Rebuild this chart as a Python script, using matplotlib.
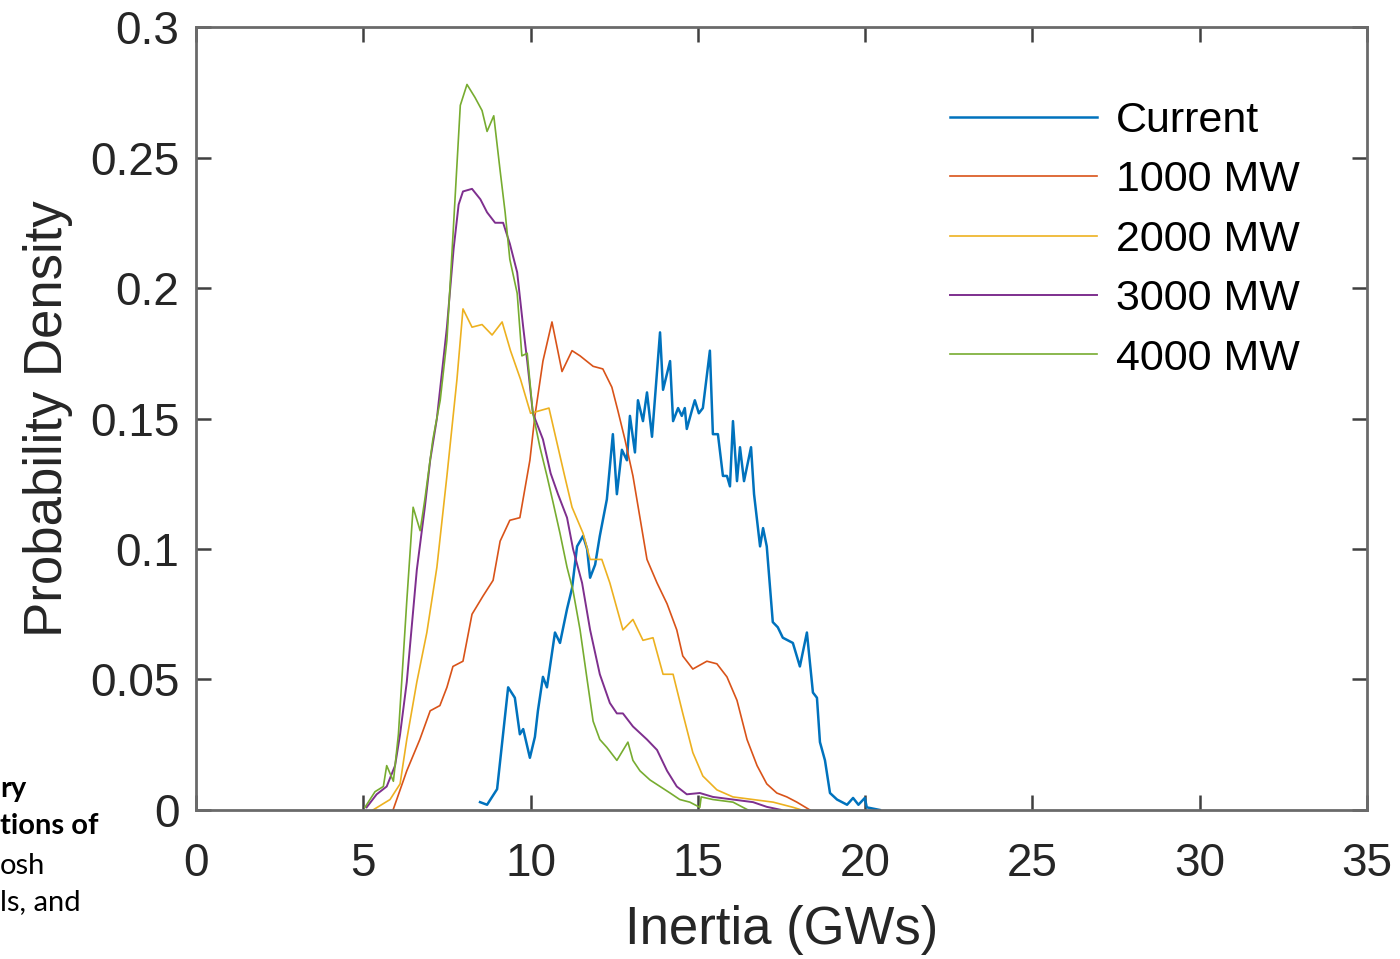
import numpy as np
import matplotlib
matplotlib.use("Agg")
import matplotlib.pyplot as plt

# Inertia (GWs) vs probability density
current = [(8.49, 0.003), (8.7, 0.002), (9.0, 0.008), (9.33, 0.047), (9.53, 0.043),
           (9.68, 0.029), (9.78, 0.031), (9.98, 0.020), (10.13, 0.028), (10.22, 0.038),
           (10.37, 0.051), (10.49, 0.047), (10.73, 0.068), (10.88, 0.064), (11.09, 0.077),
           (11.24, 0.085), (11.39, 0.101), (11.57, 0.105), (11.69, 0.100), (11.78, 0.089),
           (11.93, 0.094), (12.07, 0.105), (12.28, 0.119), (12.46, 0.144), (12.58, 0.121),
           (12.73, 0.138), (12.88, 0.134), (12.97, 0.151), (13.12, 0.137), (13.21, 0.157),
           (13.36, 0.149), (13.48, 0.160), (13.63, 0.143), (13.87, 0.183), (13.96, 0.161),
           (14.17, 0.172), (14.26, 0.149), (14.41, 0.154), (14.52, 0.151), (14.61, 0.154),
           (14.67, 0.146), (14.82, 0.153), (14.91, 0.157), (15.03, 0.152), (15.15, 0.154),
           (15.36, 0.176), (15.45, 0.144), (15.6, 0.144), (15.75, 0.128), (15.87, 0.128),
           (15.96, 0.124), (16.05, 0.149), (16.17, 0.126), (16.26, 0.139), (16.38, 0.126),
           (16.59, 0.139), (16.68, 0.121), (16.86, 0.101), (16.95, 0.108), (17.06, 0.101),
           (17.24, 0.072), (17.39, 0.070), (17.54, 0.066), (17.69, 0.065), (17.84, 0.064),
           (18.05, 0.055), (18.26, 0.068), (18.44, 0.045), (18.56, 0.043), (18.65, 0.026),
           (18.80, 0.019), (18.95, 0.0065), (19.16, 0.004), (19.31, 0.003), (19.46, 0.002),
           (19.64, 0.0046), (19.8, 0.002), (19.99, 0.0046), (20.05, 0.001), (20.44, 0.0)]

mw1000 = [(5.89, 0.0), (6.3, 0.015), (6.69, 0.027), (7.0, 0.038), (7.29, 0.040),
          (7.5, 0.047), (7.68, 0.055), (7.98, 0.057), (8.25, 0.075), (8.58, 0.082),
          (8.88, 0.088), (9.09, 0.103), (9.38, 0.111), (9.68, 0.112), (9.98, 0.134),
          (10.13, 0.151), (10.37, 0.172), (10.64, 0.187), (10.94, 0.168), (11.24, 0.176),
          (11.48, 0.174), (11.87, 0.170), (12.16, 0.169), (12.43, 0.162), (12.61, 0.153),
          (12.82, 0.142), (13.06, 0.128), (13.27, 0.112), (13.48, 0.096), (13.78, 0.087),
          (14.08, 0.079), (14.37, 0.069), (14.55, 0.059), (14.85, 0.054), (15.27, 0.057),
          (15.57, 0.056), (15.87, 0.051), (16.17, 0.042), (16.47, 0.027), (16.77, 0.017),
          (17.06, 0.010), (17.36, 0.0065), (17.66, 0.005), (17.96, 0.003), (18.35, 0.0)]

mw2000 = [(5.29, 0.0), (5.8, 0.004), (6.1, 0.010), (6.3, 0.027), (6.6, 0.049),
          (6.9, 0.068), (7.2, 0.093), (7.5, 0.128), (7.8, 0.165), (7.98, 0.192),
          (8.25, 0.185), (8.55, 0.186), (8.85, 0.182), (9.15, 0.187), (9.4, 0.176),
          (9.7, 0.165), (10.0, 0.152), (10.55, 0.154), (10.73, 0.144), (11.0, 0.129),
          (11.24, 0.116), (11.57, 0.106), (11.78, 0.096), (12.13, 0.096), (12.37, 0.087),
          (12.76, 0.069), (13.06, 0.073), (13.36, 0.065), (13.66, 0.066), (13.96, 0.052),
          (14.26, 0.052), (14.55, 0.037), (14.85, 0.022), (15.15, 0.013), (15.57, 0.0077),
          (16.05, 0.005), (16.65, 0.004), (17.25, 0.003), (17.85, 0.001), (18.1, 0.0)]

mw3000 = [(5.1, 0.001), (5.4, 0.006), (5.7, 0.009), (5.95, 0.017), (6.1, 0.029),
          (6.3, 0.049), (6.6, 0.092), (6.84, 0.116), (7.0, 0.134), (7.2, 0.150),
          (7.5, 0.185), (7.7, 0.215), (7.85, 0.232), (7.98, 0.237), (8.25, 0.238),
          (8.5, 0.234), (8.7, 0.229), (8.94, 0.225), (9.18, 0.225), (9.38, 0.217),
          (9.6, 0.206), (9.78, 0.185), (9.9, 0.172), (10.07, 0.152), (10.37, 0.142),
          (10.6, 0.129), (10.82, 0.121), (11.09, 0.112), (11.27, 0.100), (11.54, 0.087),
          (11.78, 0.069), (12.07, 0.052), (12.37, 0.041), (12.58, 0.037), (12.76, 0.037),
          (13.06, 0.032), (13.48, 0.027), (13.78, 0.023), (14.08, 0.015), (14.37, 0.009),
          (14.67, 0.006), (15.06, 0.0065), (15.45, 0.005), (16.05, 0.004), (16.65, 0.003),
          (17.06, 0.0012), (17.5, 0.0)]

mw4000 = [(5.05, 0.001), (5.35, 0.007), (5.6, 0.009), (5.7, 0.017), (5.8, 0.014),
          (5.9, 0.011), (6.05, 0.029), (6.3, 0.080), (6.49, 0.116), (6.7, 0.107),
          (6.84, 0.119), (7.08, 0.142), (7.3, 0.157), (7.5, 0.180), (7.68, 0.220),
          (7.9, 0.270), (8.1, 0.278), (8.34, 0.273), (8.55, 0.268), (8.7, 0.260),
          (8.9, 0.266), (9.09, 0.245), (9.24, 0.229), (9.38, 0.211), (9.6, 0.198),
          (9.74, 0.174), (9.9, 0.175), (10.07, 0.152), (10.28, 0.139), (10.49, 0.128),
          (10.67, 0.118), (10.88, 0.106), (11.09, 0.093), (11.27, 0.084), (11.48, 0.069),
          (11.69, 0.050), (11.87, 0.034), (12.07, 0.027), (12.28, 0.024), (12.58, 0.019),
          (12.91, 0.026), (13.06, 0.019), (13.27, 0.015), (13.57, 0.0115), (13.87, 0.009),
          (14.17, 0.0065), (14.46, 0.004), (14.76, 0.003), (15.06, 0.001), (15.1, 0.005),
          (15.45, 0.004), (16.05, 0.003), (16.5, 0.0)]

series = [current, mw1000, mw2000, mw3000, mw4000]
labels = ["Current", "1000 MW", "2000 MW", "3000 MW", "4000 MW"]
colors = ["#0072BD", "#D95319", "#EDB120", "#7E2F8E", "#77AC30"]
widths = [1.8, 1.2, 1.2, 1.4, 1.2]

plt.rcParams['font.family'] = ['Liberation Sans', 'DejaVu Sans']

fig = plt.figure(figsize=(14, 9.59), dpi=100)
ax = fig.add_axes([0.14, 0.1554, 0.8364, 0.8164])

for data, lab, col, lw in zip(series, labels, colors, widths):
    d = np.array(data)
    ax.plot(d[:, 0], d[:, 1], color=col, lw=lw, label=lab)

ax.set_xlim(0, 35)
ax.set_ylim(0, 0.3)
ax.set_xticks(np.arange(0, 36, 5))
ax.set_yticks([0, 0.05, 0.1, 0.15, 0.2, 0.25, 0.3])
ax.set_yticklabels(["0", "0.05", "0.1", "0.15", "0.2", "0.25", "0.3"])
ax.tick_params(direction='in', length=11, width=1.8, color='#404040',
               labelsize=33, labelcolor='#262626', top=True, right=True)
ax.tick_params(axis='x', pad=23)
ax.tick_params(axis='y', pad=12)
for sp in ax.spines.values():
    sp.set_color('#6a6a6a')
    sp.set_linewidth(2)

ax.set_xlabel("Inertia (GWs)", fontsize=38, color='#262626', labelpad=14)
ax.set_ylabel("Probability Density", fontsize=38, color='#262626', labelpad=12)

leg = ax.legend(loc='upper right', bbox_to_anchor=(0.976, 0.955), frameon=False,
                fontsize=31, handlelength=3.4, handletextpad=0.45, labelspacing=0.45)

# clipped caption text from the surrounding page
cap = [("ry", 'bold', 789), ("tions of", 'bold', 826), ("osh", 'normal', 866), ("ls, and", 'normal', 902)]
for txt, wt, ypx in cap:
    fig.text(0.0, 1 - ypx / 959, txt, fontsize=21, fontweight=wt, family=['Lato', 'DejaVu Sans'],
             ha='left', va='center', color='black')

fig.savefig("out.png", dpi=100)
